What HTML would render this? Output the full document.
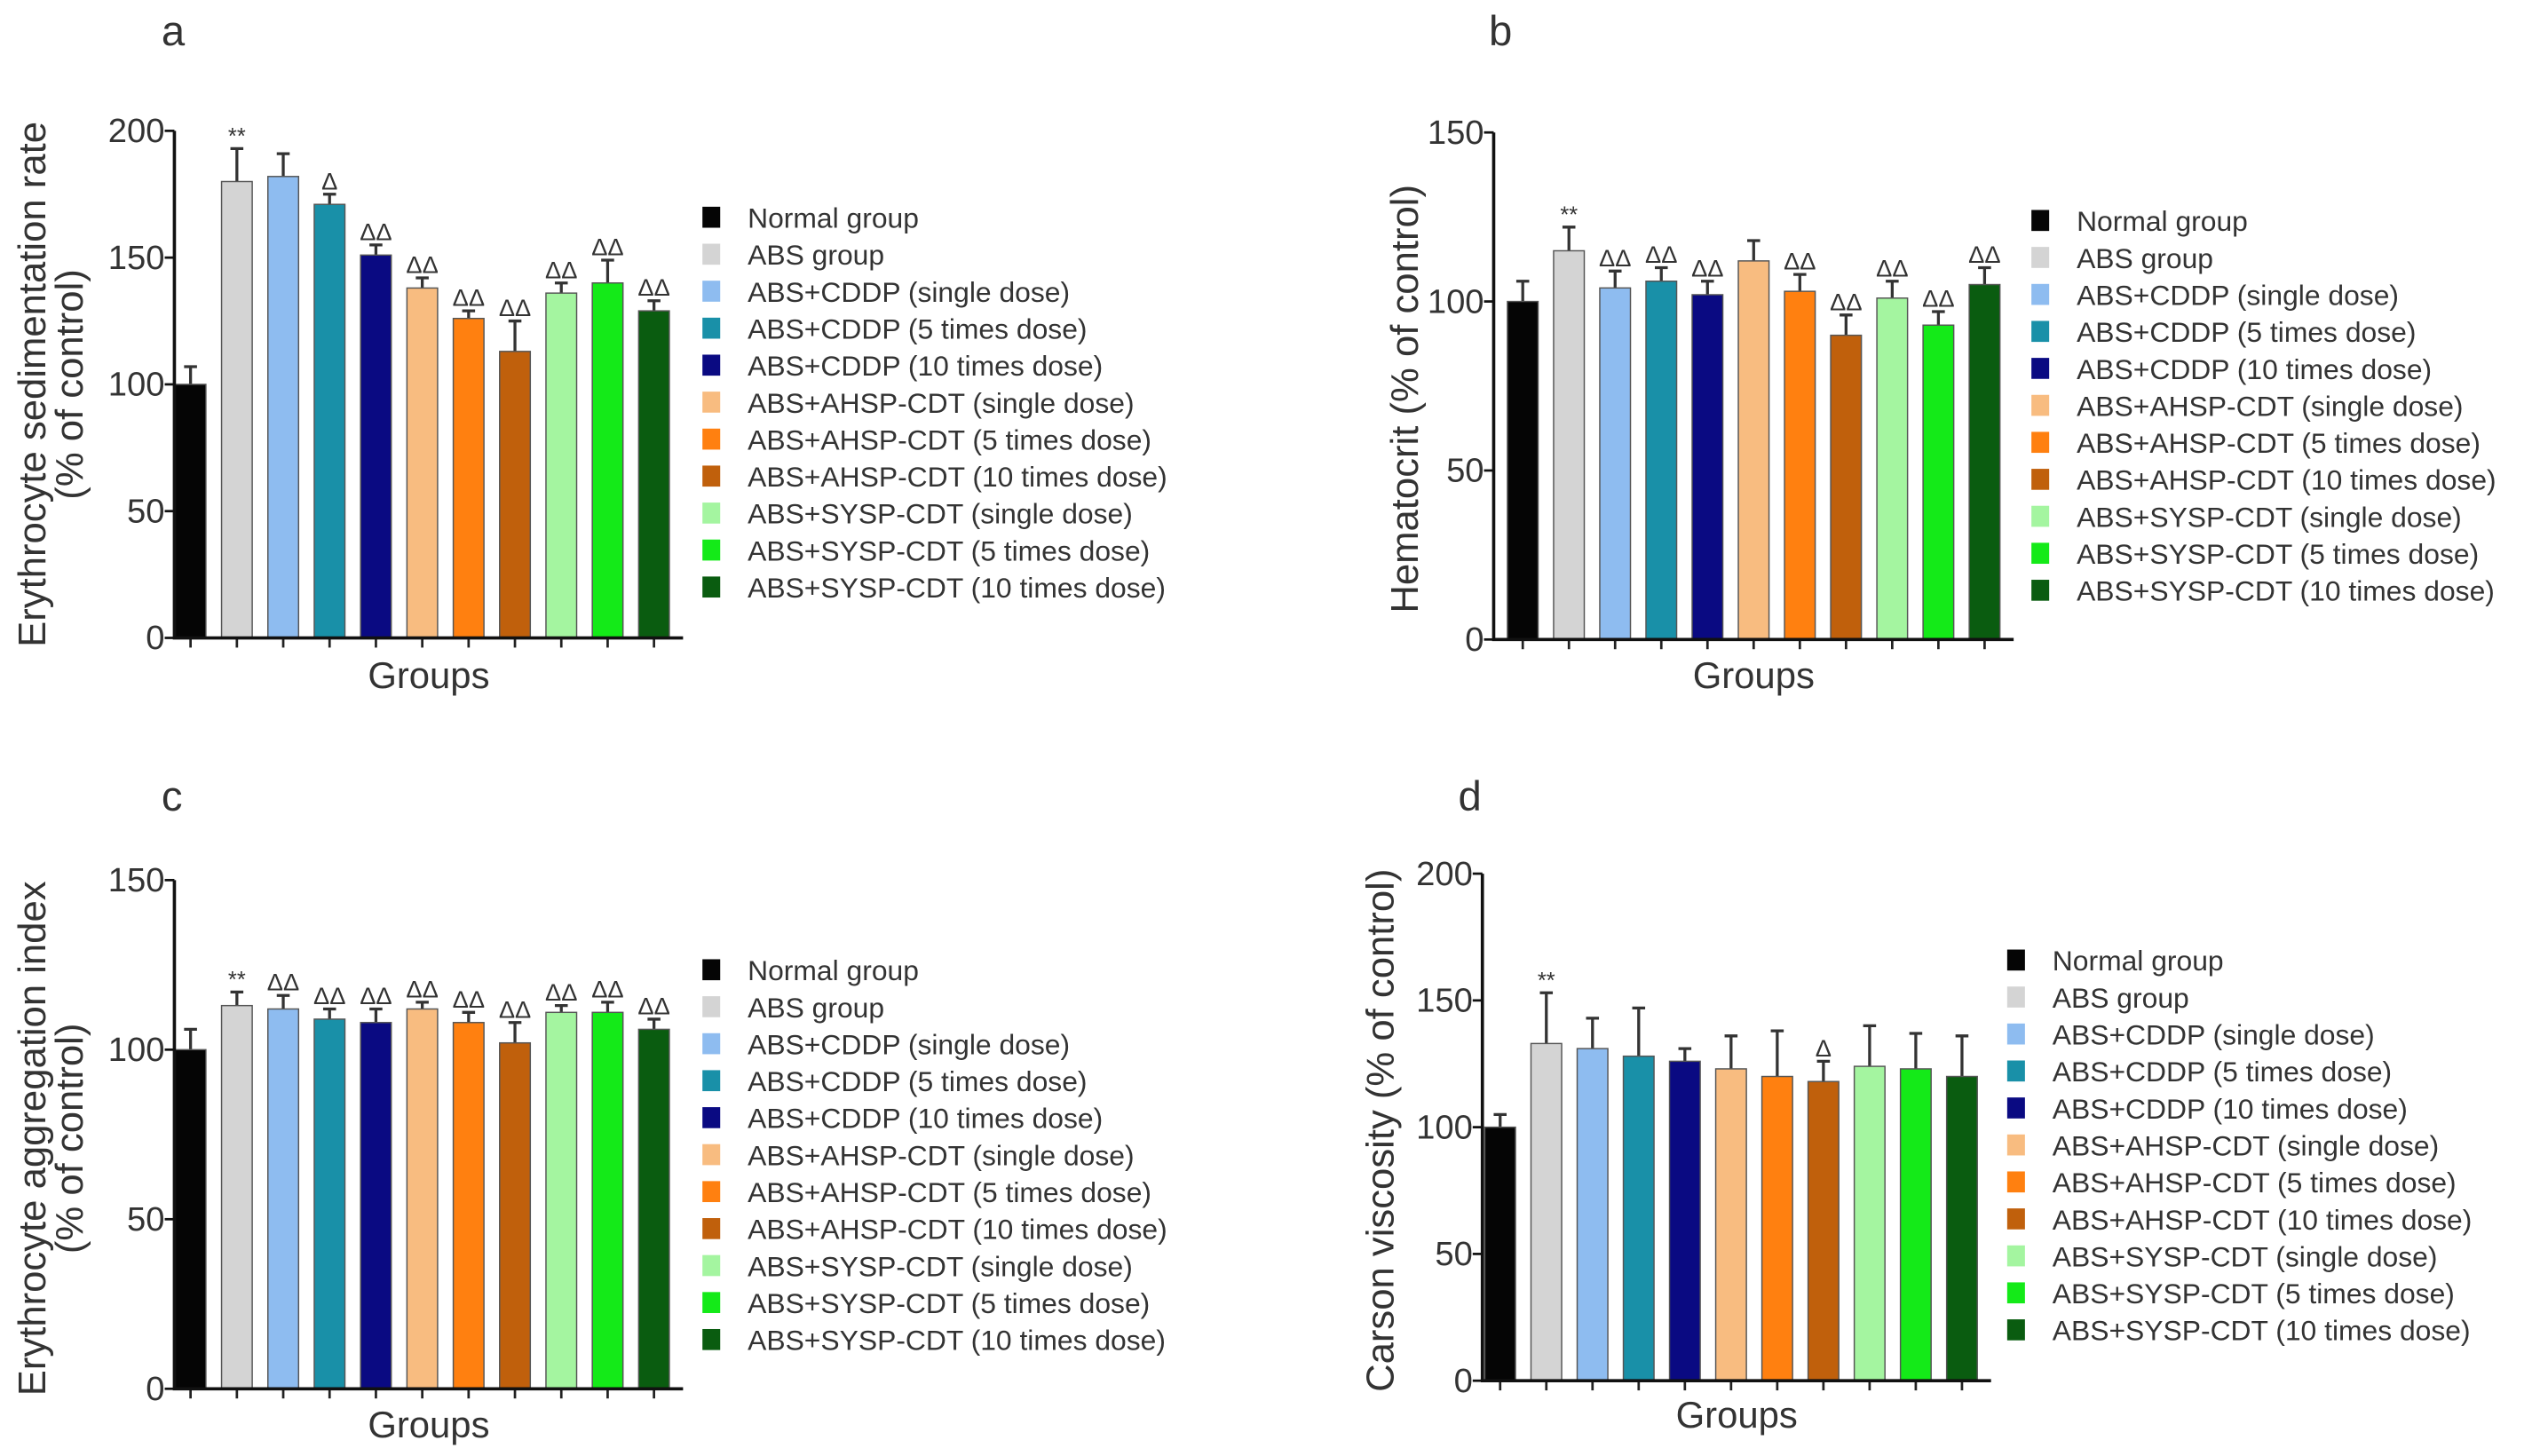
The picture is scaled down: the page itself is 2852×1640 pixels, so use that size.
<!DOCTYPE html>
<html><head><meta charset="utf-8"><style>
html,body{margin:0;padding:0;background:#fff;}
svg{display:block;}
text{font-family:"Liberation Sans",sans-serif;fill:#333;}
</style></head><body>
<svg id="fig" width="2852" height="1640" viewBox="0 0 1568 901.6" xmlns="http://www.w3.org/2000/svg"></svg>
<script>
const groups = ["Normal group","ABS group","ABS+CDDP (single dose)","ABS+CDDP (5 times dose)","ABS+CDDP (10 times dose)","ABS+AHSP-CDT (single dose)","ABS+AHSP-CDT (5 times dose)","ABS+AHSP-CDT (10 times dose)","ABS+SYSP-CDT (single dose)","ABS+SYSP-CDT (5 times dose)","ABS+SYSP-CDT (10 times dose)"];
const colors = ["#050505","#d4d4d4","#8ebcf0","#1990a8","#0a0a82","#f8bc80","#ff8010","#c0600c","#a4f5a0","#14ea18","#0a5c10"];
const esrMeans = [100,180,182,171,151,138,126,113,136,140,129];
const esrErr = [7,13,9,4,4,4,3,12,4,9,4];
const esrMarks = ["","**","","Δ","ΔΔ","ΔΔ","ΔΔ","ΔΔ","ΔΔ","ΔΔ","ΔΔ"];
const hctMeans = [100,115,104,106,102,112,103,90,101,93,105];
const hctErr = [6,7,5,4,4,6,5,6,5,4,5];
const hctMarks = ["","**","ΔΔ","ΔΔ","ΔΔ","","ΔΔ","ΔΔ","ΔΔ","ΔΔ","ΔΔ"];
const aggMeans = [100,113,112,109,108,112,108,102,111,111,106];
const aggErr = [6,4,4,3,4,2,3,6,2,3,3];
const aggMarks = ["","**","ΔΔ","ΔΔ","ΔΔ","ΔΔ","ΔΔ","ΔΔ","ΔΔ","ΔΔ","ΔΔ"];
const visMeans = [100,133,131,128,126,123,120,118,124,123,120];
const visErr = [5,20,12,19,5,13,18,8,16,14,16];
const visMarks = ["","**","","","","","","Δ","","",""];
const ticksA = [0,50,100,150,200];
const ticksB = [0,50,100,150];

const svg = document.getElementById('fig');
const NS = "http://www.w3.org/2000/svg";
function mk(tag, attrs, parent){const e=document.createElementNS(NS,tag);for(const k in attrs)e.setAttribute(k,attrs[k]);(parent||svg).appendChild(e);return e;}

const panels = [
 {id:"a",letter:"a",lx:100,ly:28,ax:108,y0:395,yTop:81,max:200,ticks:ticksA,m:esrMeans,e:esrErr,s:esrMarks,
  title:["Erythrocyte sedimentation rate","(% of control)"],tx:[20,43],tcy:238,b0:118,step:28.7,legX:440,legY:135,groupsY:426},
 {id:"b",letter:"b",lx:922,ly:28,ax:925,y0:396,yTop:82,max:150,ticks:ticksB,m:hctMeans,e:hctErr,s:hctMarks,
  title:["Hematocrit (% of control)"],tx:[870],tcy:247,b0:943,step:28.6,legX:1263,legY:137,groupsY:426},
 {id:"c",letter:"c",lx:100,ly:502,ax:108,y0:860,yTop:545,max:150,ticks:ticksB,m:aggMeans,e:aggErr,s:aggMarks,
  title:["Erythrocyte aggregation index","(% of control)"],tx:[20,43],tcy:705,b0:118,step:28.7,legX:440,legY:601,groupsY:890},
 {id:"d",letter:"d",lx:903,ly:502,ax:918,y0:855,yTop:541,max:200,ticks:ticksA,m:visMeans,e:visErr,s:visMarks,
  title:["Carson viscosity (% of control)"],tx:[855],tcy:700,b0:929,step:28.6,legX:1248,legY:595,groupsY:884}
];

panels.forEach(p=>{
  const g = mk('g',{});
  
  
  const yS = v => p.y0 - (v/p.max)*(p.y0-p.yTop);
  const xS = i => p.b0 + i*p.step;
  const L = mk('text',{x:p.lx,y:p.ly,'font-size':26},g); L.textContent=p.letter;
   
  p.m.forEach((v,i)=>{
    const cx=xS(i), w=19, top=yS(v);
    const er=yS(v+p.e[i]);
    const ln=mk('path',{d:`M${cx} ${top} V${er} M${cx-4} ${er} H${cx+4}`,stroke:'#333','stroke-width':1.8,fill:'none'},g);
     
    const r=mk('rect',{x:cx-w/2,y:top,width:w,height:p.y0-top,fill:colors[i],stroke:'#555','stroke-width':0.8},g);
     
    if(p.s[i]){const t=mk('text',{x:cx,y:er-3,'font-size':p.s[i]=="**"?14:15,'text-anchor':'middle'},g);t.textContent=p.s[i];
       }
    const tk=mk('line',{x1:cx,x2:cx,y1:p.y0,y2:p.y0+6,stroke:'#222','stroke-width':1.5},g);
     
  });
  const xEnd = xS(10)+18;
  const axes=mk('path',{d:`M${p.ax} ${p.yTop} V${p.y0} H${xEnd}`,stroke:'#111','stroke-width':2,fill:'none'},g);
   
  p.ticks.forEach(t=>{
    const y=yS(t);
    const l=mk('line',{x1:p.ax-6,x2:p.ax,y1:y,y2:y,stroke:'#111','stroke-width':1.5},g);
     
    const tx=mk('text',{x:p.ax-6,y:y+7,'font-size':21,'text-anchor':'end'},g); tx.textContent=t;
     
  });
  p.title.forEach((s,k)=>{
    const t=mk('text',{x:0,y:0,'font-size':24,'text-anchor':'middle',transform:`translate(${p.tx[k]+8},${p.tcy}) rotate(-90)`},g);
    t.textContent=s;  
  });
  const gx=mk('text',{x:(p.ax+xEnd)/2,y:p.groupsY,'font-size':23,'text-anchor':'middle'},g); gx.textContent='Groups';
   
  groups.forEach((n,i)=>{
    const y=p.legY+i*22.9;
    const sq=mk('rect',{x:p.legX-5,y:y-7,width:11,height:13,fill:colors[i]},g);
     
    const t=mk('text',{x:p.legX+23,y:y+6,'font-size':17.5},g); t.textContent=n;
     
  });
});
</script>
</body></html>
